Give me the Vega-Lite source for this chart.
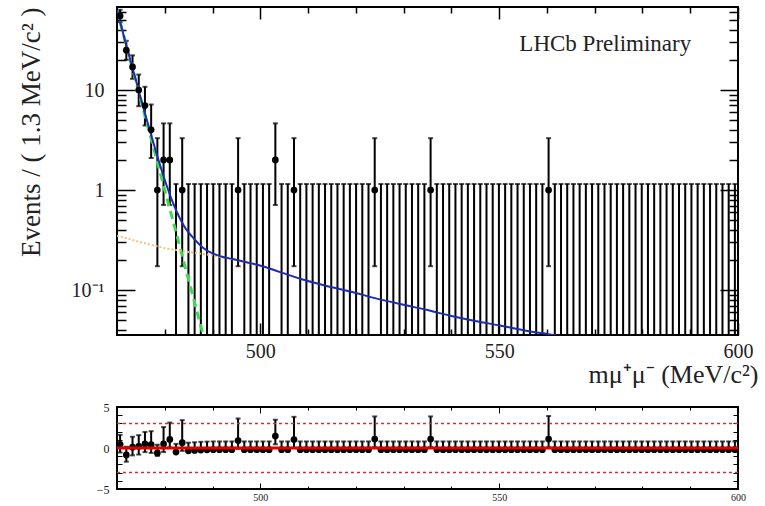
{
 "$schema": "https://vega.github.io/schema/vega-lite/v6.json",
 "background": "white",
 "padding": {"left": 16, "top": 5, "right": 0, "bottom": 0},
 "bounds": "flush",
 "spacing": 72,
 "config": {"font": "Liberation Serif", "view": {"stroke": "black", "strokeWidth": 2}},
 "datasets": {
  "bins": [
   {"m":470.65,"n":55,"lo":47.6,"hi":63.4,"p":0.45,"plo":-0.55,"phi":1.6},
   {"m":471.95,"n":25,"lo":20.04,"hi":31.07,"p":-0.85,"plo":-1.67,"phi":0.15},
   {"m":473.25,"n":17,"lo":12.93,"hi":22.2,"p":0.1,"plo":-0.9,"phi":1.37},
   {"m":474.55,"n":10,"lo":6.89,"hi":14.27,"p":0.2,"plo":-0.8,"phi":1.57},
   {"m":475.85,"n":7,"lo":4.42,"hi":10.77,"p":0.5,"plo":-0.5,"phi":1.96},
   {"m":477.15,"n":4,"lo":2.09,"hi":7.16,"p":0.4,"plo":-0.6,"phi":2.05},
   {"m":478.45,"n":1,"lo":0.173,"hi":3.3,"p":-0.6,"plo":-0.96,"phi":0.4},
   {"m":479.75,"n":2,"lo":0.708,"hi":4.64,"p":0.5,"plo":-0.5,"phi":2.55},
   {"m":481.05,"n":2,"lo":0.708,"hi":4.64,"p":1.05,"plo":0.05,"phi":3.1},
   {"m":482.35,"n":0,"lo":0.001,"hi":1.148,"p":-0.5,"plo":-0.5,"phi":0.5},
   {"m":483.65,"n":1,"lo":0.173,"hi":3.3,"p":0.65,"plo":-0.35,"phi":3.4},
   {"m":484.95,"n":0,"lo":0.001,"hi":1.148,"p":-0.35,"plo":-0.35,"phi":0.65},
   {"m":486.25,"n":0,"lo":0.001,"hi":1.148,"p":-0.3,"plo":-0.3,"phi":0.7},
   {"m":487.55,"n":0,"lo":0.001,"hi":1.148,"p":-0.25,"plo":-0.25,"phi":0.75},
   {"m":488.85,"n":0,"lo":0.001,"hi":1.148,"p":-0.22,"plo":-0.22,"phi":0.78},
   {"m":490.15,"n":0,"lo":0.001,"hi":1.148,"p":-0.2,"plo":-0.2,"phi":0.8},
   {"m":491.45,"n":0,"lo":0.001,"hi":1.148,"p":-0.2,"plo":-0.2,"phi":0.8},
   {"m":492.75,"n":0,"lo":0.001,"hi":1.148,"p":-0.2,"plo":-0.2,"phi":0.8},
   {"m":494.05,"n":0,"lo":0.001,"hi":1.148,"p":-0.2,"plo":-0.2,"phi":0.8},
   {"m":495.35,"n":1,"lo":0.173,"hi":3.3,"p":0.9,"plo":-0.1,"phi":3.6},
   {"m":496.65,"n":0,"lo":0.001,"hi":1.148,"p":-0.2,"plo":-0.2,"phi":0.8},
   {"m":497.95,"n":0,"lo":0.001,"hi":1.148,"p":-0.2,"plo":-0.2,"phi":0.8},
   {"m":499.25,"n":0,"lo":0.001,"hi":1.148,"p":-0.2,"plo":-0.2,"phi":0.8},
   {"m":500.55,"n":0,"lo":0.001,"hi":1.148,"p":-0.2,"plo":-0.2,"phi":0.8},
   {"m":501.85,"n":0,"lo":0.001,"hi":1.148,"p":-0.2,"plo":-0.2,"phi":0.8},
   {"m":503.15,"n":2,"lo":0.708,"hi":4.64,"p":1.45,"plo":0.45,"phi":3.45},
   {"m":504.45,"n":0,"lo":0.001,"hi":1.148,"p":-0.2,"plo":-0.2,"phi":0.8},
   {"m":505.75,"n":0,"lo":0.001,"hi":1.148,"p":-0.2,"plo":-0.2,"phi":0.8},
   {"m":507.05,"n":1,"lo":0.173,"hi":3.3,"p":1.03,"plo":0.03,"phi":3.8},
   {"m":508.35,"n":0,"lo":0.001,"hi":1.148,"p":-0.2,"plo":-0.2,"phi":0.8},
   {"m":509.65,"n":0,"lo":0.001,"hi":1.148,"p":-0.2,"plo":-0.2,"phi":0.8},
   {"m":510.95,"n":0,"lo":0.001,"hi":1.148,"p":-0.2,"plo":-0.2,"phi":0.8},
   {"m":512.25,"n":0,"lo":0.001,"hi":1.148,"p":-0.2,"plo":-0.2,"phi":0.8},
   {"m":513.55,"n":0,"lo":0.001,"hi":1.148,"p":-0.2,"plo":-0.2,"phi":0.8},
   {"m":514.85,"n":0,"lo":0.001,"hi":1.148,"p":-0.2,"plo":-0.2,"phi":0.8},
   {"m":516.15,"n":0,"lo":0.001,"hi":1.148,"p":-0.2,"plo":-0.2,"phi":0.8},
   {"m":517.45,"n":0,"lo":0.001,"hi":1.148,"p":-0.2,"plo":-0.2,"phi":0.8},
   {"m":518.75,"n":0,"lo":0.001,"hi":1.148,"p":-0.2,"plo":-0.2,"phi":0.8},
   {"m":520.05,"n":0,"lo":0.001,"hi":1.148,"p":-0.2,"plo":-0.2,"phi":0.8},
   {"m":521.35,"n":0,"lo":0.001,"hi":1.148,"p":-0.2,"plo":-0.2,"phi":0.8},
   {"m":522.65,"n":0,"lo":0.001,"hi":1.148,"p":-0.2,"plo":-0.2,"phi":0.8},
   {"m":523.95,"n":1,"lo":0.173,"hi":3.3,"p":1.1,"plo":0.1,"phi":3.85},
   {"m":525.25,"n":0,"lo":0.001,"hi":1.148,"p":-0.2,"plo":-0.2,"phi":0.8},
   {"m":526.55,"n":0,"lo":0.001,"hi":1.148,"p":-0.2,"plo":-0.2,"phi":0.8},
   {"m":527.85,"n":0,"lo":0.001,"hi":1.148,"p":-0.2,"plo":-0.2,"phi":0.8},
   {"m":529.15,"n":0,"lo":0.001,"hi":1.148,"p":-0.2,"plo":-0.2,"phi":0.8},
   {"m":530.45,"n":0,"lo":0.001,"hi":1.148,"p":-0.2,"plo":-0.2,"phi":0.8},
   {"m":531.75,"n":0,"lo":0.001,"hi":1.148,"p":-0.2,"plo":-0.2,"phi":0.8},
   {"m":533.05,"n":0,"lo":0.001,"hi":1.148,"p":-0.2,"plo":-0.2,"phi":0.8},
   {"m":534.35,"n":0,"lo":0.001,"hi":1.148,"p":-0.2,"plo":-0.2,"phi":0.8},
   {"m":535.65,"n":1,"lo":0.173,"hi":3.3,"p":1.1,"plo":0.1,"phi":3.85},
   {"m":536.95,"n":0,"lo":0.001,"hi":1.148,"p":-0.2,"plo":-0.2,"phi":0.8},
   {"m":538.25,"n":0,"lo":0.001,"hi":1.148,"p":-0.2,"plo":-0.2,"phi":0.8},
   {"m":539.55,"n":0,"lo":0.001,"hi":1.148,"p":-0.2,"plo":-0.2,"phi":0.8},
   {"m":540.85,"n":0,"lo":0.001,"hi":1.148,"p":-0.2,"plo":-0.2,"phi":0.8},
   {"m":542.15,"n":0,"lo":0.001,"hi":1.148,"p":-0.2,"plo":-0.2,"phi":0.8},
   {"m":543.45,"n":0,"lo":0.001,"hi":1.148,"p":-0.2,"plo":-0.2,"phi":0.8},
   {"m":544.75,"n":0,"lo":0.001,"hi":1.148,"p":-0.2,"plo":-0.2,"phi":0.8},
   {"m":546.05,"n":0,"lo":0.001,"hi":1.148,"p":-0.2,"plo":-0.2,"phi":0.8},
   {"m":547.35,"n":0,"lo":0.001,"hi":1.148,"p":-0.2,"plo":-0.2,"phi":0.8},
   {"m":548.65,"n":0,"lo":0.001,"hi":1.148,"p":-0.2,"plo":-0.2,"phi":0.8},
   {"m":549.95,"n":0,"lo":0.001,"hi":1.148,"p":-0.2,"plo":-0.2,"phi":0.8},
   {"m":551.25,"n":0,"lo":0.001,"hi":1.148,"p":-0.2,"plo":-0.2,"phi":0.8},
   {"m":552.55,"n":0,"lo":0.001,"hi":1.148,"p":-0.2,"plo":-0.2,"phi":0.8},
   {"m":553.85,"n":0,"lo":0.001,"hi":1.148,"p":-0.2,"plo":-0.2,"phi":0.8},
   {"m":555.15,"n":0,"lo":0.001,"hi":1.148,"p":-0.2,"plo":-0.2,"phi":0.8},
   {"m":556.45,"n":0,"lo":0.001,"hi":1.148,"p":-0.2,"plo":-0.2,"phi":0.8},
   {"m":557.75,"n":0,"lo":0.001,"hi":1.148,"p":-0.2,"plo":-0.2,"phi":0.8},
   {"m":559.05,"n":0,"lo":0.001,"hi":1.148,"p":-0.2,"plo":-0.2,"phi":0.8},
   {"m":560.35,"n":1,"lo":0.173,"hi":3.3,"p":1.1,"plo":0.1,"phi":3.9},
   {"m":561.65,"n":0,"lo":0.001,"hi":1.148,"p":-0.2,"plo":-0.2,"phi":0.8},
   {"m":562.95,"n":0,"lo":0.001,"hi":1.148,"p":-0.2,"plo":-0.2,"phi":0.8},
   {"m":564.25,"n":0,"lo":0.001,"hi":1.148,"p":-0.2,"plo":-0.2,"phi":0.8},
   {"m":565.55,"n":0,"lo":0.001,"hi":1.148,"p":-0.2,"plo":-0.2,"phi":0.8},
   {"m":566.85,"n":0,"lo":0.001,"hi":1.148,"p":-0.2,"plo":-0.2,"phi":0.8},
   {"m":568.15,"n":0,"lo":0.001,"hi":1.148,"p":-0.2,"plo":-0.2,"phi":0.8},
   {"m":569.45,"n":0,"lo":0.001,"hi":1.148,"p":-0.2,"plo":-0.2,"phi":0.8},
   {"m":570.75,"n":0,"lo":0.001,"hi":1.148,"p":-0.2,"plo":-0.2,"phi":0.8},
   {"m":572.05,"n":0,"lo":0.001,"hi":1.148,"p":-0.2,"plo":-0.2,"phi":0.8},
   {"m":573.35,"n":0,"lo":0.001,"hi":1.148,"p":-0.2,"plo":-0.2,"phi":0.8},
   {"m":574.65,"n":0,"lo":0.001,"hi":1.148,"p":-0.2,"plo":-0.2,"phi":0.8},
   {"m":575.95,"n":0,"lo":0.001,"hi":1.148,"p":-0.2,"plo":-0.2,"phi":0.8},
   {"m":577.25,"n":0,"lo":0.001,"hi":1.148,"p":-0.2,"plo":-0.2,"phi":0.8},
   {"m":578.55,"n":0,"lo":0.001,"hi":1.148,"p":-0.2,"plo":-0.2,"phi":0.8},
   {"m":579.85,"n":0,"lo":0.001,"hi":1.148,"p":-0.2,"plo":-0.2,"phi":0.8},
   {"m":581.15,"n":0,"lo":0.001,"hi":1.148,"p":-0.2,"plo":-0.2,"phi":0.8},
   {"m":582.45,"n":0,"lo":0.001,"hi":1.148,"p":-0.2,"plo":-0.2,"phi":0.8},
   {"m":583.75,"n":0,"lo":0.001,"hi":1.148,"p":-0.2,"plo":-0.2,"phi":0.8},
   {"m":585.05,"n":0,"lo":0.001,"hi":1.148,"p":-0.2,"plo":-0.2,"phi":0.8},
   {"m":586.35,"n":0,"lo":0.001,"hi":1.148,"p":-0.2,"plo":-0.2,"phi":0.8},
   {"m":587.65,"n":0,"lo":0.001,"hi":1.148,"p":-0.2,"plo":-0.2,"phi":0.8},
   {"m":588.95,"n":0,"lo":0.001,"hi":1.148,"p":-0.2,"plo":-0.2,"phi":0.8},
   {"m":590.25,"n":0,"lo":0.001,"hi":1.148,"p":-0.2,"plo":-0.2,"phi":0.8},
   {"m":591.55,"n":0,"lo":0.001,"hi":1.148,"p":-0.2,"plo":-0.2,"phi":0.8},
   {"m":592.85,"n":0,"lo":0.001,"hi":1.148,"p":-0.2,"plo":-0.2,"phi":0.8},
   {"m":594.15,"n":0,"lo":0.001,"hi":1.148,"p":-0.2,"plo":-0.2,"phi":0.8},
   {"m":595.45,"n":0,"lo":0.001,"hi":1.148,"p":-0.2,"plo":-0.2,"phi":0.8},
   {"m":596.75,"n":0,"lo":0.001,"hi":1.148,"p":-0.2,"plo":-0.2,"phi":0.8},
   {"m":598.05,"n":0,"lo":0.001,"hi":1.148,"p":-0.2,"plo":-0.2,"phi":0.8},
   {"m":599.35,"n":0,"lo":0.001,"hi":1.148,"p":-0.2,"plo":-0.2,"phi":0.8}
  ],
  "blue": [
   {"m":470,"v":63.4},{"m":472,"v":27.3},{"m":474,"v":12.3},{"m":476,"v":5.5},{"m":478,"v":2.57},
   {"m":480,"v":1.26},{"m":482,"v":0.69},{"m":484,"v":0.44},{"m":486,"v":0.33},{"m":488,"v":0.265},
   {"m":490,"v":0.232},{"m":492,"v":0.215},{"m":494,"v":0.205},{"m":496,"v":0.195},{"m":498,"v":0.185},
   {"m":500.1,"v":0.175},{"m":504,"v":0.152},{"m":508.5,"v":0.129},{"m":513.5,"v":0.111},{"m":519,"v":0.096},
   {"m":524,"v":0.083},{"m":529.5,"v":0.072},{"m":535,"v":0.063},{"m":540,"v":0.055},{"m":545,"v":0.049},
   {"m":550.4,"v":0.044},{"m":556,"v":0.039},{"m":561.5,"v":0.0355},{"m":565,"v":0.033}
  ],
  "green": [
   {"m":470,"v":63},{"m":472,"v":27},{"m":474,"v":12},{"m":476,"v":5.2},{"m":478,"v":2.3},
   {"m":480,"v":1.0},{"m":482,"v":0.44},{"m":484,"v":0.19},{"m":486,"v":0.083},{"m":488,"v":0.036},{"m":489,"v":0.024}
  ],
  "orange": [
   {"m":470,"v":0.35},{"m":475,"v":0.3},{"m":480,"v":0.262},{"m":485,"v":0.24},{"m":490,"v":0.222},{"m":495,"v":0.2},{"m":500,"v":0.176}
  ],
  "ref": [{"v":3},{"v":-3}],
  "zero": [{"v":0}],
  "label": [{"t":"LHCb Preliminary"}]
 },
 "vconcat": [
  {
   "width": 621,
   "height": 328,
   "resolve": {"axis": {"x": "independent", "y": "independent"}},
   "layer": [
    {
     "data": {"name": "bins"},
     "mark": {"type": "rule", "color": "black", "strokeWidth": 2, "clip": true},
     "encoding": {
      "x": {"field": "m", "type": "quantitative",
        "scale": {"domain": [470, 600], "nice": false, "zero": false},
        "axis": {"orient": "bottom", "values": [500, 550, 600],
          "domain": false, "grid": false, "ticks": false,
          "labelFont": "Liberation Serif", "labelFontSize": 20, "labelColor": "#222", "labelPadding": 6,
          "labelFlush": false, "labelOverlap": false,
          "title": "mμ⁺μ⁻ (MeV/c²)", "titleFont": "Liberation Serif", "titleFontSize": 26,
          "titleFontWeight": "normal", "titleColor": "#222",
          "titleAnchor": "end", "titleAlign": "right", "titleX": 641, "titleY": 47, "titleBaseline": "alphabetic"}},
      "y": {"field": "lo", "type": "quantitative",
        "scale": {"type": "log", "domain": [0.0355, 67.6], "nice": false},
        "axis": {"orient": "left", "values": [0.1, 1, 10],
          "domain": false, "grid": false, "ticks": false,
          "labelExpr": "datum.value === 0.1 ? '10⁻¹' : (datum.value === 1 ? '1' : '10')",
          "labelFont": "Liberation Serif", "labelFontSize": 20, "labelColor": "#222", "labelPadding": 13,
          "labelFlush": false, "labelOverlap": false,
          "title": "Events / ( 1.3 MeV/c² )", "titleFont": "Liberation Serif", "titleFontSize": 27,
          "titleFontWeight": "normal", "titleColor": "#222", "titleAnchor": "end", "titlePadding": 26}},
      "y2": {"field": "hi"}
     }
    },
    {
     "data": {"name": "bins"},
     "mark": {"type": "tick", "orient": "horizontal", "color": "black", "size": 5, "thickness": 2},
     "encoding": {
      "x": {"field": "m", "type": "quantitative",
        "axis": {"orient": "bottom", "values": [480,490,500,510,520,530,540,550,560,570,580,590,600],
          "domain": false, "grid": false, "labels": false, "title": null, "tickColor": "black", "tickWidth": 1.5,
          "tickSize": {"condition": {"test": "datum.value % 50 === 0", "value": -12}, "value": -6}}},
      "y": {"field": "hi", "type": "quantitative",
        "axis": {"orient": "left",
          "values": [0.04,0.05,0.06,0.07,0.08,0.09,0.1,0.2,0.3,0.4,0.5,0.6,0.7,0.8,0.9,1,2,3,4,5,6,7,8,9,10,20,30,40,50,60],
          "domain": false, "grid": false, "labels": false, "title": null, "tickColor": "black", "tickWidth": 1.5,
          "tickSize": {"condition": {"test": "datum.value === 0.1 || datum.value === 1 || datum.value === 10", "value": -18}, "value": -9}}}
     }
    },
    {
     "data": {"name": "bins"},
     "transform": [{"filter": "datum.n > 0"}],
     "mark": {"type": "tick", "orient": "horizontal", "color": "black", "size": 5, "thickness": 2},
     "encoding": {
      "x": {"field": "m", "type": "quantitative",
        "axis": {"orient": "top", "values": [480,490,500,510,520,530,540,550,560,570,580,590,600],
          "domain": false, "grid": false, "labels": false, "title": null, "tickColor": "black", "tickWidth": 1.5,
          "tickSize": {"condition": {"test": "datum.value % 50 === 0", "value": -12}, "value": -6}}},
      "y": {"field": "lo", "type": "quantitative",
        "axis": {"orient": "right",
          "values": [0.04,0.05,0.06,0.07,0.08,0.09,0.1,0.2,0.3,0.4,0.5,0.6,0.7,0.8,0.9,1,2,3,4,5,6,7,8,9,10,20,30,40,50,60],
          "domain": false, "grid": false, "labels": false, "title": null, "tickColor": "black", "tickWidth": 1.5,
          "tickSize": {"condition": {"test": "datum.value === 0.1 || datum.value === 1 || datum.value === 10", "value": -18}, "value": -9}}}
     }
    },
    {
     "data": {"name": "green"},
     "mark": {"type": "line", "color": "#3ddc50", "strokeWidth": 3, "strokeDash": [8, 5], "clip": true},
     "encoding": {
      "x": {"field": "m", "type": "quantitative", "axis": null},
      "y": {"field": "v", "type": "quantitative", "axis": null}
     }
    },
    {
     "data": {"name": "orange"},
     "mark": {"type": "line", "color": "#f2c27a", "strokeWidth": 2, "strokeDash": [2, 2], "clip": true},
     "encoding": {
      "x": {"field": "m", "type": "quantitative", "axis": null},
      "y": {"field": "v", "type": "quantitative", "axis": null}
     }
    },
    {
     "data": {"name": "blue"},
     "mark": {"type": "line", "color": "#1c2db0", "strokeWidth": 2, "clip": true, "interpolate": "monotone"},
     "encoding": {
      "x": {"field": "m", "type": "quantitative", "axis": null},
      "y": {"field": "v", "type": "quantitative", "axis": null}
     }
    },
    {
     "data": {"name": "bins"},
     "transform": [{"filter": "datum.n > 0"}],
     "mark": {"type": "circle", "color": "black", "opacity": 1, "size": 45},
     "encoding": {
      "x": {"field": "m", "type": "quantitative", "axis": null},
      "y": {"field": "n", "type": "quantitative", "axis": null}
     }
    },
    {
     "data": {"name": "label"},
     "mark": {"type": "text", "font": "Liberation Serif", "fontSize": 23, "color": "#222", "align": "right", "baseline": "middle"},
     "encoding": {
      "x": {"datum": 590.2, "type": "quantitative", "axis": null},
      "y": {"datum": 28.8, "type": "quantitative", "axis": null},
      "text": {"field": "t"}
     }
    }
   ]
  },
  {
   "width": 621,
   "height": 82,
   "resolve": {"axis": {"x": "independent", "y": "independent"}},
   "layer": [
    {
     "data": {"name": "bins"},
     "mark": {"type": "rule", "color": "black", "strokeWidth": 2, "clip": true},
     "encoding": {
      "x": {"field": "m", "type": "quantitative",
        "scale": {"domain": [470, 600], "nice": false, "zero": false},
        "axis": {"orient": "bottom", "values": [500, 550, 600],
          "domain": false, "grid": false, "ticks": false,
          "labelFont": "Liberation Serif", "labelFontSize": 10, "labelColor": "#222", "labelPadding": 3,
          "labelFlush": false, "labelOverlap": false, "title": null}},
      "y": {"field": "plo", "type": "quantitative",
        "scale": {"domain": [-5, 5], "nice": false},
        "axis": {"orient": "left", "values": [-5, 0, 5],
          "domain": false, "grid": false, "ticks": false,
          "labelExpr": "datum.value === -5 ? '−5' : (datum.value === 5 ? '5' : '0')",
          "labelFont": "Liberation Serif", "labelFontSize": 12, "labelColor": "#222", "labelPadding": 8,
          "labelFlush": false, "labelOverlap": false, "title": null}},
      "y2": {"field": "phi"}
     }
    },
    {
     "data": {"name": "bins"},
     "mark": {"type": "tick", "orient": "horizontal", "color": "black", "size": 5, "thickness": 2},
     "encoding": {
      "x": {"field": "m", "type": "quantitative",
        "axis": {"orient": "bottom", "values": [480,490,500,510,520,530,540,550,560,570,580,590,600],
          "domain": false, "grid": false, "labels": false, "title": null, "tickColor": "black", "tickWidth": 1,
          "tickSize": {"condition": {"test": "datum.value % 50 === 0", "value": -6}, "value": -3}}},
      "y": {"field": "phi", "type": "quantitative",
        "axis": {"orient": "left", "values": [-5,-4,-3,-2,-1,0,1,2,3,4,5],
          "domain": false, "grid": false, "labels": false, "title": null, "tickColor": "black", "tickWidth": 1,
          "tickSize": {"condition": {"test": "datum.value % 5 === 0", "value": -10}, "value": -5}}}
     }
    },
    {
     "data": {"name": "bins"},
     "transform": [{"filter": "datum.n > 0"}],
     "mark": {"type": "tick", "orient": "horizontal", "color": "black", "size": 5, "thickness": 2},
     "encoding": {
      "x": {"field": "m", "type": "quantitative",
        "axis": {"orient": "top", "values": [480,490,500,510,520,530,540,550,560,570,580,590,600],
          "domain": false, "grid": false, "labels": false, "title": null, "tickColor": "black", "tickWidth": 1,
          "tickSize": {"condition": {"test": "datum.value % 50 === 0", "value": -6}, "value": -3}}},
      "y": {"field": "plo", "type": "quantitative",
        "axis": {"orient": "right", "values": [-5,-4,-3,-2,-1,0,1,2,3,4,5],
          "domain": false, "grid": false, "labels": false, "title": null, "tickColor": "black", "tickWidth": 1,
          "tickSize": {"condition": {"test": "datum.value % 5 === 0", "value": -10}, "value": -5}}}
     }
    },
    {
     "data": {"name": "bins"},
     "mark": {"type": "circle", "color": "black", "opacity": 1, "size": 45},
     "encoding": {
      "x": {"field": "m", "type": "quantitative", "axis": null},
      "y": {"field": "p", "type": "quantitative", "axis": null}
     }
    },
    {
     "data": {"name": "ref"},
     "mark": {"type": "rule", "color": "#d03030", "strokeWidth": 1.5, "strokeDash": [3, 3]},
     "encoding": {
      "y": {"field": "v", "type": "quantitative", "axis": null}
     }
    },
    {
     "data": {"name": "zero"},
     "mark": {"type": "rule", "color": "#e00000", "strokeWidth": 3},
     "encoding": {
      "y": {"field": "v", "type": "quantitative", "axis": null}
     }
    }
   ]
  }
 ]
}
